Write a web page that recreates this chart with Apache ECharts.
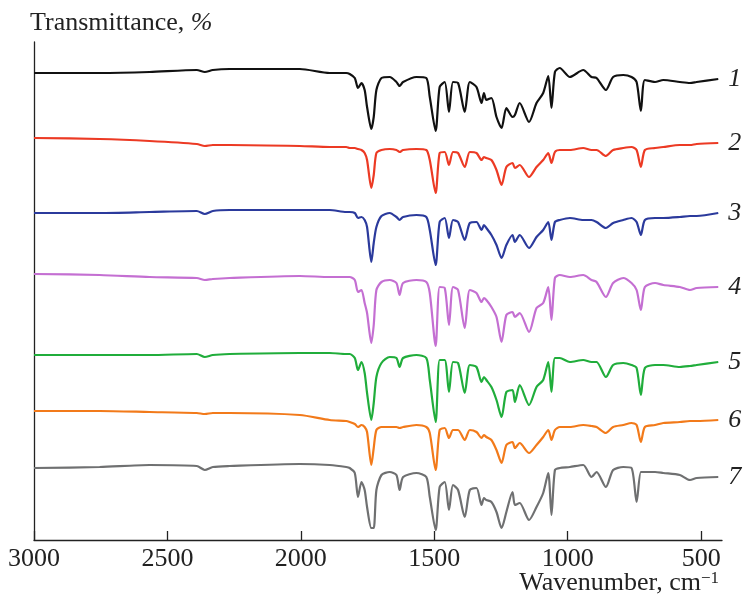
<!DOCTYPE html>
<html>
<head>
<meta charset="utf-8">
<script src="https://cdn.jsdelivr.net/npm/echarts@6/dist/echarts.min.js"></script>
<style>
  html, body { margin: 0; padding: 0; background: #fff; }
  #chart { width: 745px; height: 602px; }
</style>
</head>
<body>
<div id="chart"></div>
<script>
// wavenumber grid, cm-1 (shared by all spectra)
const wavenumbers = [3000, 2754, 2567, 2390, 2360, 2330, 2267, 2004,
  1892, 1830, 1817, 1798, 1786, 1773, 1761, 1752, 1736, 1727,
  1717, 1698, 1667, 1642, 1630, 1617, 1567, 1530, 1517, 1495,
  1480, 1461, 1445, 1430, 1411, 1386, 1367, 1342, 1323, 1314,
  1305, 1286, 1267, 1248, 1230, 1207, 1198, 1180, 1145, 1117,
  1092, 1073, 1061, 1048, 1030, 992, 942, 911, 892, 857,
  830, 792, 761, 742, 726, 711, 673, 642, 580, 542, 517, 436]

// transmittance readings, % (before stacking)
const spectrum1 = [95, 95, 96, 98, 96, 98, 99, 99,
  95, 95, 94, 90, 80, 85, 78, 61, 39, 51,
  78, 90, 91, 86, 82, 86, 91, 90, 71, 37,
  81, 86, 56, 86, 85, 56, 86, 81, 65, 75,
  68, 70, 51, 40, 60, 51, 53, 65, 46, 65,
  75, 92, 60, 96, 100, 91, 98, 91, 90, 78,
  91, 93, 91, 86, 57, 88, 86, 88, 86, 85, 86, 89]
const spectrum2 = [100, 99, 97, 94, 92, 93, 93, 92,
  91, 91, 90, 90, 89, 88, 85, 78, 50, 63,
  85, 88, 89, 88, 86, 88, 89, 88, 78, 45,
  85, 86, 73, 86, 85, 71, 86, 85, 78, 81,
  80, 78, 68, 53, 71, 75, 70, 73, 61, 71,
  78, 85, 75, 86, 88, 88, 90, 88, 88, 82,
  88, 90, 91, 88, 71, 88, 90, 91, 93, 93, 94, 95]
const spectrum3 = [95, 95, 96, 97, 94, 97, 98, 98,
  98, 96, 96, 95, 90, 91, 88, 81, 46, 65,
  81, 92, 95, 91, 88, 91, 93, 91, 78, 43,
  86, 90, 70, 88, 86, 68, 85, 86, 78, 83,
  80, 73, 63, 50, 63, 73, 66, 73, 60, 71,
  78, 86, 68, 86, 88, 90, 88, 88, 86, 80,
  85, 88, 90, 86, 73, 88, 90, 90, 91, 92, 92, 95]
const spectrum4 = [100, 99, 97, 96, 94, 95, 96, 98,
  97, 97, 97, 94, 82, 84, 71, 61, 31, 49,
  84, 92, 94, 91, 79, 91, 94, 92, 81, 28,
  87, 86, 49, 87, 84, 46, 84, 81, 72, 76,
  74, 67, 57, 32, 59, 62, 57, 61, 42, 66,
  71, 87, 54, 96, 99, 97, 99, 94, 92, 77,
  91, 96, 91, 84, 64, 87, 91, 89, 87, 84, 86, 87]
const spectrum5 = [97, 97, 97, 98, 95, 97, 98, 99,
  99, 98, 98, 94, 82, 90, 79, 59, 32, 49,
  75, 89, 95, 94, 85, 94, 97, 94, 72, 30,
  92, 92, 60, 90, 89, 59, 87, 85, 70, 75,
  72, 65, 52, 35, 60, 62, 50, 67, 47, 65,
  72, 90, 60, 94, 94, 90, 92, 90, 90, 75,
  87, 89, 87, 84, 57, 84, 87, 87, 85, 86, 87, 90]
const spectrum6 = [99, 99, 98, 97, 96, 97, 97, 95,
  90, 89, 88, 86, 83, 85, 83, 78, 45, 62,
  80, 83, 83, 83, 82, 83, 85, 83, 77, 40,
  80, 82, 72, 80, 80, 70, 80, 78, 72, 75,
  73, 70, 60, 47, 65, 68, 62, 67, 57, 65,
  73, 80, 70, 80, 83, 83, 85, 84, 83, 77,
  83, 85, 87, 85, 68, 83, 85, 87, 88, 89, 89, 90]
const spectrum7 = [96, 97, 99, 98, 94, 97, 98, 100,
  99, 97, 96, 91, 67, 82, 74, 57, 36, 36,
  74, 89, 92, 89, 74, 87, 91, 87, 67, 34,
  77, 82, 54, 79, 74, 47, 74, 76, 59, 66,
  64, 62, 52, 36, 52, 72, 59, 61, 44, 57,
  71, 91, 49, 94, 96, 97, 99, 87, 92, 77,
  94, 97, 96, 62, 92, 92, 92, 91, 89, 84, 86, 87]

const spectra = [spectrum1, spectrum2, spectrum3, spectrum4, spectrum5, spectrum6, spectrum7]
const sampleNames = ['1', '2', '3', '4', '5', '6', '7']
const offsets = [372, 302, 232, 166, 88, 30, -24]
const xTicks = [3000, 2500, 2000, 1500, 1000, 500]

const colors = ['#111111', '#ec3a24', '#2b3a9c', '#c46fd2', '#20ad3b', '#f27a1a', '#6f7071']
const serif = "'Liberation Serif', 'Times New Roman', serif"

const chart = echarts.init(document.getElementById('chart'))

const series = spectra.map((values, i) => ({
  name: sampleNames[i],
  type: 'line',
  showSymbol: false,
  smooth: 0.25,
  lineStyle: { width: 2.2, color: colors[i] },
  itemStyle: { color: colors[i] },
  data: wavenumbers.map((w, j) => [w, values[j] + offsets[i]]),
  endLabel: {
    show: true,
    formatter: sampleNames[i],
    fontFamily: serif,
    fontStyle: 'italic',
    fontSize: 26,
    color: '#222',
    align: 'left',
    verticalAlign: 'middle',
    distance: -10
  }
}))

chart.setOption({
  animation: false,
  grid: {
    left: 34,
    right: 23,
    top: 42,
    bottom: 62
  },
  xAxis: {
    type: 'value',
    inverse: true,
    min: 422,
    max: 3000,
    axisLine: { lineStyle: { color: '#222', width: 1.3 } },
    axisTick: {
      show: true,
      inside: true,
      length: 9,
      customValues: xTicks,
      lineStyle: { color: '#222', width: 1.3 }
    },
    axisLabel: {
      customValues: xTicks,
      formatter: v => String(v),
      fontFamily: serif,
      fontSize: 26,
      color: '#222',
      margin: 6
    },
    splitLine: { show: false }
  },
  yAxis: {
    type: 'value',
    min: 0,
    max: 498,
    axisLine: { show: true, lineStyle: { color: '#222', width: 1.3 } },
    axisTick: { show: false },
    axisLabel: { show: false },
    splitLine: { show: false }
  },
  graphic: [
    {
      type: 'text',
      left: 30,
      top: 10,
      style: {
        text: '{a|Transmittance, }{b|%}',
        rich: {
          a: { fontFamily: serif, fontSize: 26, fill: '#222' },
          b: { fontFamily: serif, fontSize: 26, fontStyle: 'italic', fill: '#222' }
        }
      }
    },
    {
      type: 'text',
      right: 26,
      top: 570,
      style: {
        text: '{a|Wavenumber, cm}{s|−1}',
        rich: {
          a: { fontFamily: serif, fontSize: 26, fill: '#222' },
          s: { fontFamily: serif, fontSize: 17, fill: '#222', verticalAlign: 'top' }
        }
      }
    }
  ],
  series
})
</script>
</body>
</html>
